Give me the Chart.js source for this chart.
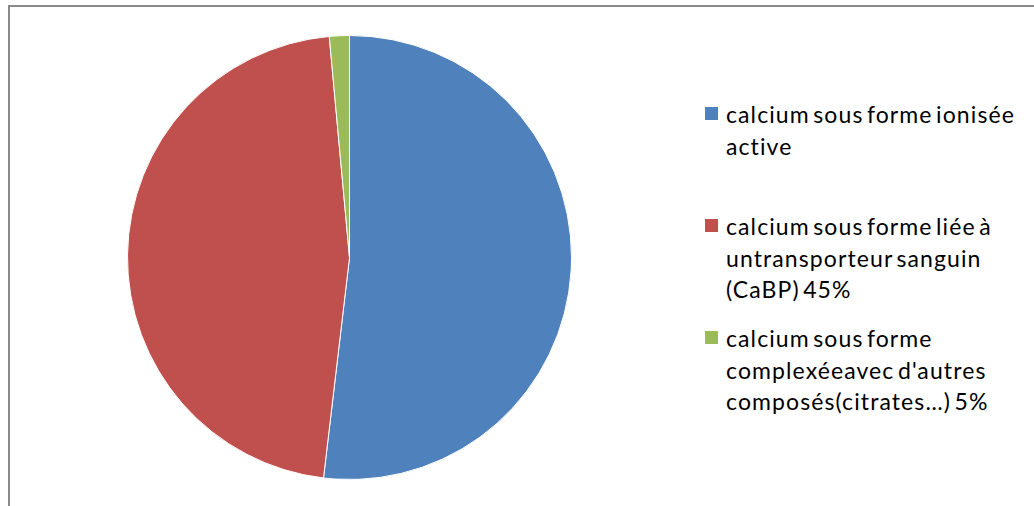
<!DOCTYPE html>
<html>
<head>
<meta charset="utf-8">
<script src="https://cdn.jsdelivr.net/npm/chart.js@4.4.0/dist/chart.umd.min.js"></script>
<style>
  html, body { margin: 0; padding: 0; background: #fff; width: 1034px; height: 506px; overflow: hidden; }
  #frame { position: absolute; left: 8px; top: 5px; width: 1100px; height: 600px; border: 2px solid #8a8a8a; box-sizing: border-box; }
  #wrap { position: absolute; left: 0; top: 0; width: 700px; height: 506px; }
  .item { position: absolute; left: 705px; font-family: Lato, "Open Sans", sans-serif; font-size: 23px; letter-spacing: 1.1px; word-spacing: -3.5px; line-height: 31.5px; color: #000; }
  .sw { position: absolute; left: 0; top: 8px; width: 13px; height: 13px; }
  .txt { position: absolute; left: 21px; top: 0; white-space: nowrap; }
</style>
</head>
<body>
<div id="frame"></div>
<div id="wrap"><canvas id="c"></canvas></div>
<div id="legend"></div>
<script>
const categories = [
  ["calcium sous forme ionisée", "active"],
  ["calcium sous forme liée à", "untransporteur sanguin", "(CaBP) 45%"],
  ["calcium sous forme", "complexéeavec d'autres", "composés(citrates…) 5%"]
];
const values = [50, 45, 1.4];
const colors = ["#4F81BD", "#C0504D", "#9BBB59"];

const chart = new Chart(document.getElementById('c'), {
  type: 'pie',
  data: {
    labels: categories,
    datasets: [{ data: values, backgroundColor: colors, borderColor: '#ffffff', borderWidth: 1 }]
  },
  options: {
    responsive: true,
    maintainAspectRatio: false,
    animation: false,
    layout: { padding: { top: 35, bottom: 26, left: 127, right: 128 } },
    plugins: { legend: { display: false }, tooltip: { enabled: false } }
  }
});

// HTML legend built from the chart's labels and colours
const legendTops = [99, 211, 323];
const legend = document.getElementById('legend');
chart.data.labels.forEach((lines, i) => {
  const item = document.createElement('div');
  item.className = 'item';
  item.style.top = legendTops[i] + 'px';
  const sw = document.createElement('div');
  sw.className = 'sw';
  sw.style.background = chart.data.datasets[0].backgroundColor[i];
  const txt = document.createElement('div');
  txt.className = 'txt';
  txt.innerHTML = lines.map(l => l.replace(/&/g,'&amp;').replace(/</g,'&lt;')).join('<br>');
  item.appendChild(sw);
  item.appendChild(txt);
  legend.appendChild(item);
});
</script>
</body>
</html>
